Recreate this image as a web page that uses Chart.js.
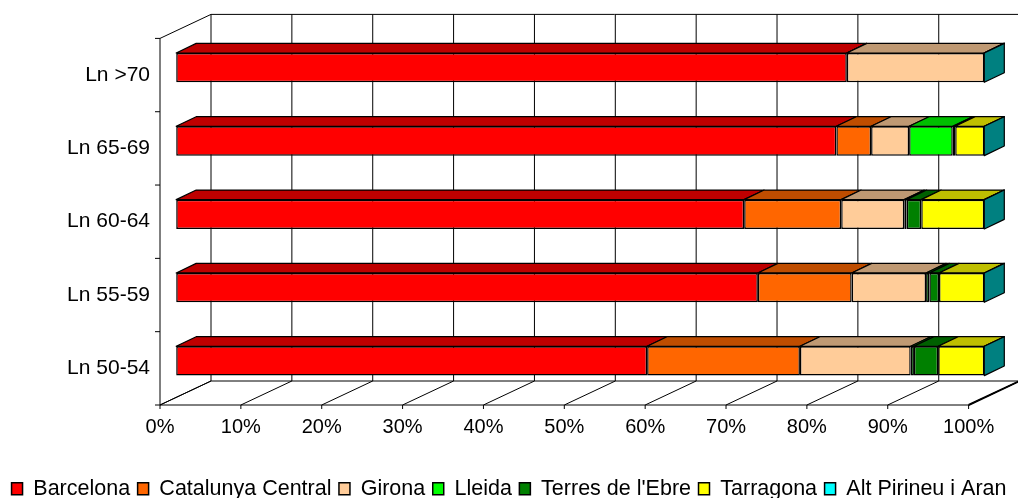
<!DOCTYPE html>
<html>
<head>
<meta charset="utf-8">
<script src="https://cdn.jsdelivr.net/npm/chart.js@4.4.1/dist/chart.umd.min.js"></script>
<style>
  html, body { margin: 0; padding: 0; background: #fff; }
  #wrap { width: 1018px; height: 498px; }
</style>
</head>
<body>
<div id="wrap"><canvas id="myChart"></canvas></div>
<script>
// datos (porcentaje de cada region por grupo)
const categories = ['Ln >70', 'Ln 65-69', 'Ln 60-64', 'Ln 55-59', 'Ln 50-54']
const barcelona = [83.0, 81.7, 70.3, 72.0, 58.3]
const catalunyaCentral = [0, 4.3, 12.0, 11.6, 18.9]
const girona = [17.0, 4.7, 7.8, 9.2, 13.7]
const lleida = [0, 5.4, 0.3, 0.4, 0.4]
const terresEbre = [0, 0.3, 1.8, 1.2, 3.0]
const tarragona = [0, 3.6, 7.8, 5.6, 5.7]
const altPirineu = [0, 0, 0, 0, 0]
const tickValues = [0, 10, 20, 30, 40, 50, 60, 70, 80, 90, 100]

const series = [
  ['Barcelona', barcelona, '#FF0000'],
  ['Catalunya Central', catalunyaCentral, '#FF6600'],
  ['Girona', girona, '#FFCC99'],
  ['Lleida', lleida, '#00FF00'],
  ["Terres de l'Ebre", terresEbre, '#008000'],
  ['Tarragona', tarragona, '#FFFF00'],
  ['Alt Pirineu i Aran', altPirineu, '#00FFFF']
]

// desplazamientos de la perspectiva (plano frontal, pared del fondo, profundidad de barra)
const FRONT = { x: -15.7, y: 7.4 }
const BACK = { x: 35.3, y: -16.6 }
const DEPTH = { x: 20, y: -9.6 }
const CHART_BOTTOM = 397.6

function shade(hex, f) {
  const n = parseInt(hex.slice(1), 16)
  const r = Math.round(((n >> 16) & 255) * f)
  const g = Math.round(((n >> 8) & 255) * f)
  const b = Math.round((n & 255) * f)
  return `rgb(${r},${g},${b})`
}

function line(ctx, x1, y1, x2, y2) {
  ctx.beginPath()
  ctx.moveTo(x1, y1)
  ctx.lineTo(x2, y2)
  ctx.stroke()
}

function poly(ctx, pts, fill) {
  ctx.beginPath()
  ctx.moveTo(pts[0][0], pts[0][1])
  pts.slice(1).forEach(p => ctx.lineTo(p[0], p[1]))
  ctx.closePath()
  ctx.fillStyle = fill
  ctx.fill()
  ctx.stroke()
}

const frame3d = {
  id: 'frame3d',
  afterLayout(chart) {
    // bajamos la leyenda al borde inferior como en el original
    const lg = chart.legend
    const shift = 490 - (lg.top + lg.height / 2)
    lg.top += shift
    lg.bottom += shift
  },
  beforeDatasetsDraw(chart) {
    const { ctx, chartArea: ca, scales: { x } } = chart
    const x0 = x.getPixelForValue(0)
    const x100 = x.getPixelForValue(100)
    ctx.save()
    ctx.strokeStyle = '#000'
    ctx.lineWidth = 1

    // suelo
    poly(ctx, [
      [x0 + FRONT.x, ca.bottom + FRONT.y], [x100 + FRONT.x, ca.bottom + FRONT.y],
      [x100 + BACK.x, ca.bottom + BACK.y], [x0 + BACK.x, ca.bottom + BACK.y]
    ], '#fff')

    tickValues.forEach(v => {
      const px = x.getPixelForValue(v)
      // rejilla de la pared del fondo
      line(ctx, px + BACK.x, ca.top + BACK.y, px + BACK.x, ca.bottom + BACK.y)
      // rejilla del suelo
      line(ctx, px + FRONT.x, ca.bottom + FRONT.y, px + BACK.x, ca.bottom + BACK.y)
      // marcas del eje X
      line(ctx, px + FRONT.x, ca.bottom + FRONT.y, px + FRONT.x, ca.bottom + FRONT.y + 4)
    })

    // borde superior de la pared del fondo
    line(ctx, x0 + BACK.x, ca.top + BACK.y, chart.width, ca.top + BACK.y)
    // pared izquierda
    line(ctx, x0 + FRONT.x, ca.top + FRONT.y, x0 + FRONT.x, ca.bottom + FRONT.y)
    line(ctx, x0 + FRONT.x, ca.top + FRONT.y, x0 + BACK.x, ca.top + BACK.y)

    // marcas del eje Y (limites de categoria)
    const step = (ca.bottom - ca.top) / categories.length
    for (let i = 0; i <= categories.length; i++) {
      const py = ca.top + i * step + FRONT.y
      line(ctx, x0 + FRONT.x - 5, py, x0 + FRONT.x, py)
    }

    // borde derecho del suelo, mas grueso
    ctx.lineWidth = 2
    line(ctx, x100 + FRONT.x, ca.bottom + FRONT.y, x100 + BACK.x, ca.bottom + BACK.y)
    ctx.restore()
  },
  afterDatasetsDraw(chart) {
    const { ctx } = chart
    ctx.save()
    ctx.strokeStyle = '#000'
    ctx.lineWidth = 1.2
    ctx.lineJoin = 'round'
    const last = chart.data.datasets.length - 1
    chart.data.datasets.forEach((ds, di) => {
      const meta = chart.getDatasetMeta(di)
      meta.data.forEach(bar => {
        const p = bar.getProps(['x', 'base', 'y', 'height'], true)
        const top = p.y - p.height / 2
        const bottom = p.y + p.height / 2
        // cara superior
        poly(ctx, [
          [p.base, top], [p.x, top],
          [p.x + DEPTH.x, top + DEPTH.y], [p.base + DEPTH.x, top + DEPTH.y]
        ], shade(ds.backgroundColor, 0.75))
        // cara lateral al final de la pila
        if (di === last) {
          poly(ctx, [
            [p.x, top], [p.x + DEPTH.x, top + DEPTH.y],
            [p.x + DEPTH.x, bottom + DEPTH.y], [p.x, bottom]
          ], shade(ds.backgroundColor, 0.5))
        }
      })
    })
    ctx.restore()
  }
}

Chart.defaults.font.family = '"Liberation Sans", Arial, sans-serif'
Chart.defaults.color = '#000'

const ctx = document.getElementById('myChart')

new Chart(ctx, {
  type: 'bar',
  data: {
    labels: categories,
    datasets: series.map(s => ({
      label: s[0],
      data: s[1],
      backgroundColor: s[2],
      borderColor: '#000',
      borderWidth: 1.5,
      borderSkipped: false,
      barPercentage: 0.4,
      categoryPercentage: 1
    }))
  },
  options: {
    indexAxis: 'y',
    responsive: true,
    maintainAspectRatio: false,
    animation: false,
    layout: { padding: { top: 31, right: 0, left: 0, bottom: 0 } },
    scales: {
      x: {
        stacked: true,
        min: 0,
        max: 100,
        grid: { display: true, drawOnChartArea: false, color: 'transparent', tickLength: 18 },
        border: { display: false },
        ticks: {
          stepSize: 10,
          padding: 0,
          labelOffset: FRONT.x,
          maxRotation: 0,
          font: { size: 20 },
          callback: v => v + '%'
        },
        afterFit(s) {
          s.height = s.chart.height - CHART_BOTTOM - s.chart.legend.height
        }
      },
      y: {
        stacked: true,
        grid: { display: true, drawOnChartArea: false, color: 'transparent', tickLength: 25.7 },
        border: { display: false },
        ticks: {
          padding: 0,
          labelOffset: FRONT.y,
          font: { size: 21 }
        },
        afterFit(s) {
          s.width = 175.7
        }
      },
      // eje vacio a la derecha solo para reservar el margen
      yr: {
        type: 'linear',
        position: 'right',
        grid: { display: false },
        border: { display: false },
        ticks: { display: false },
        afterFit(s) {
          s.width = 33.7
        }
      }
    },
    plugins: {
      legend: {
        position: 'bottom',
        labels: {
          boxWidth: 11,
          boxHeight: 12,
          padding: 7.5,
          color: '#000',
          font: { size: 21.5 }
        }
      },
      tooltip: { enabled: false }
    }
  },
  plugins: [frame3d]
})
</script>
</body>
</html>
